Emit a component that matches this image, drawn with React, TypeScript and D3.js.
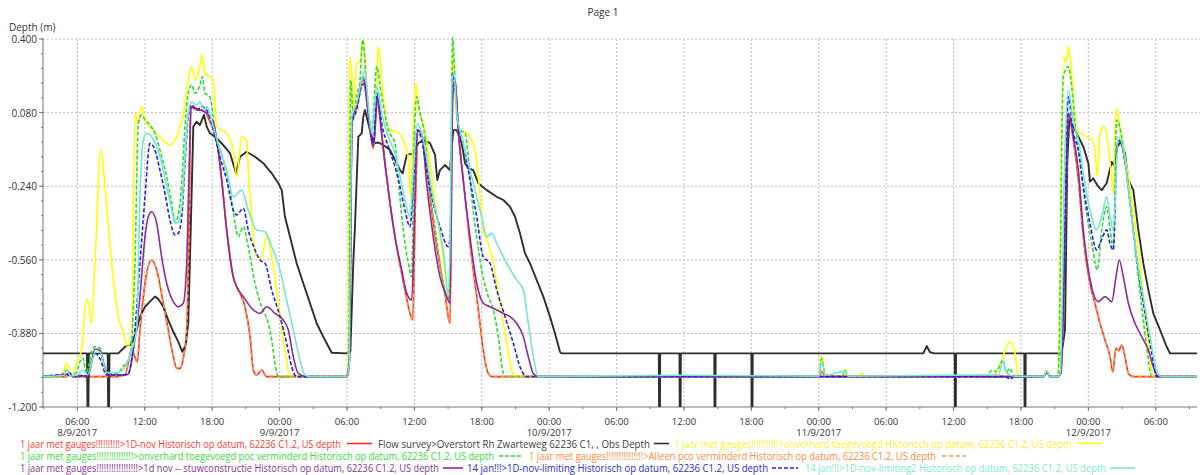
import React from "react";
import * as d3 from "d3";

// ---------- DATA (hours since 8/9/2017 00:00, depth in m) ----------
const redDepth: [number, number][] = [
  [2.94,-1.068],[5.05,-1.068],[5.3,-1.058],[5.6,-1.068],[9.5,-1.068],[10.24,-1.06],[10.83,-0.952],[11.33,-1.003],[11.57,-0.865],[12.02,-0.662],[12.61,-0.561],[13.06,-0.604],[13.65,-0.749],[14.09,-0.865],[14.54,-0.981],[14.84,-1.032],[15.13,-1.032],[15.43,-0.988],[15.73,-0.865],[15.94,-0.43],[16.11,0.106],[16.6,0.09],[17.21,0.091],[17.8,0.04],[18.4,-0.039],[18.85,-0.213],[19.29,-0.43],[19.88,-0.634],[20.18,-0.677],[20.48,-0.706],[20.92,-0.764],[21.37,-0.894],[21.66,-1.039],[21.96,-1.061],[22.41,-1.039],[22.85,-1.068],
  [29.9,-1.068],[30.2,-1.01],[30.45,0.033],[30.9,0.11],[31.45,0.222],[31.9,0.07],[32.34,-0.075],[32.75,0.14],[33.0,0.03],[33.38,-0.14],[33.83,-0.314],[34.43,-0.503],[35.16,-0.691],[35.61,-0.793],[35.85,-0.822],[36.1,-0.3],[36.35,0.004],[36.8,-0.04],[37.39,-0.286],[37.99,-0.503],[38.72,-0.706],[39.17,-0.836],[39.41,0.149],[39.62,0.222],[39.91,0.004],[40.35,-0.213],[40.95,-0.488],[41.55,-0.72],[41.84,-0.836],[42.13,-0.952],[42.58,-1.054],[42.9,-1.068],
  [72.0,-1.068],[72.26,-1.045],[72.6,-1.068],[92.0,-1.068],[92.29,-1.05],[92.6,-1.068],[93.3,-1.068],[93.55,-1.054],[94.0,-0.3],[94.21,0.077],[94.66,-0.039],[95.11,-0.213],[95.55,-0.46],[96.14,-0.662],[96.59,-0.749],[97.03,-0.836],[97.48,-0.909],[97.93,-0.981],[98.17,-1.047],[98.46,-0.945],[98.7,-0.955],[98.96,-0.931],[99.26,-0.981],[99.56,-1.054],[100.0,-1.068],[105.7,-1.068]
];

const blackDepth: [number, number][] = [
  [2.94,-0.967],[6.86,-0.967],[6.9,-1.2],[6.98,-1.2],[7.02,-0.967],[8.7,-0.967],[8.74,-1.2],[8.82,-1.2],[8.86,-0.967],[9.64,-0.967],[10.24,-0.938],[10.68,-0.931],[10.98,-0.909],[11.28,-0.865],[11.57,-0.807],[12.02,-0.764],[12.46,-0.742],[12.91,-0.72],[13.2,-0.73],[13.65,-0.764],[14.09,-0.822],[14.54,-0.873],[14.98,-0.916],[15.34,-0.96],[15.64,-0.931],[15.87,-0.836],[16.09,-0.43],[16.32,0.019],[16.62,0.04],[16.91,0.026],[17.27,0.07],[17.51,0.019],[17.8,-0.01],[18.25,-0.025],[18.99,-0.061],[19.59,-0.097],[20.12,-0.184],[20.48,-0.112],[21.07,-0.09],[21.81,-0.112],[22.55,-0.14],[23.3,-0.184],[23.89,-0.227],[24.19,-0.257],[24.48,-0.373],[24.93,-0.46],[25.52,-0.575],[26.11,-0.662],[26.71,-0.749],[27.3,-0.836],[28.04,-0.909],[28.64,-0.964],[29.97,-0.967],
  [30.3,-0.96],[30.56,-0.575],[30.71,-0.416],[31.01,-0.025],[31.31,-0.01],[31.45,0.062],[31.6,0.091],[31.9,0.033],[32.2,-0.025],[32.49,-0.053],[32.8,-0.05],[33.23,-0.061],[33.83,-0.083],[34.43,-0.14],[34.72,-0.17],[34.96,-0.184],[35.32,-0.104],[35.91,-0.097],[36.35,-0.053],[36.79,-0.039],[37.39,-0.053],[37.84,-0.104],[38.04,-0.213],[38.28,-0.17],[38.72,-0.148],[39.17,-0.17],[39.46,0.004],[39.77,0.004],[40.21,-0.053],[40.51,-0.14],[40.8,-0.162],[41.24,-0.17],[41.69,-0.227],[42.44,-0.257],[43.33,-0.286],[43.92,-0.3],[44.51,-0.329],[44.96,-0.373],[45.4,-0.445],[45.85,-0.532],[46.29,-0.575],[46.89,-0.648],[47.48,-0.72],[48.07,-0.807],[48.52,-0.88],[48.96,-0.96],[49.1,-0.967],
  [57.76,-0.967],[57.78,-1.2],[57.86,-1.2],[57.88,-0.967],[59.6,-0.967],[59.62,-1.2],[59.7,-1.2],[59.72,-0.967],[62.7,-0.967],[62.72,-1.2],[62.8,-1.2],[62.82,-0.967],[66.0,-0.967],[66.02,-1.2],[66.1,-1.2],[66.12,-0.967],[81.3,-0.967],[81.61,-0.935],[81.9,-0.962],[82.3,-0.967],[84.1,-0.967],[84.12,-1.2],[84.2,-1.2],[84.22,-0.967],[90.3,-0.967],[90.32,-1.2],[90.4,-1.2],[90.42,-0.967],
  [93.62,-0.967],[93.92,-0.865],[94.12,-0.14],[94.3,0.048],[94.66,0.019],[95.11,-0.025],[95.55,-0.068],[96.0,-0.14],[96.14,-0.22],[96.44,-0.206],[96.89,-0.242],[97.19,-0.257],[97.63,-0.227],[98.08,-0.134],[98.3,-0.15],[98.57,-0.068],[98.87,-0.047],[99.26,-0.097],[99.56,-0.213],[100.0,-0.257],[100.45,-0.43],[100.89,-0.575],[101.34,-0.691],[101.78,-0.793],[102.38,-0.865],[102.97,-0.938],[103.27,-0.967],[105.7,-0.967]
];

const yellowDepth: [number, number][] = [
  [2.94,-1.068],[4.45,-1.068],[4.75,-1.05],[5.05,-1.01],[5.34,-1.05],[5.6,-1.06],[6.0,-1.0],[6.38,-0.952],[6.77,-0.732],[7.0,-0.745],[7.27,-0.836],[7.57,-0.575],[8.07,-0.083],[8.61,-0.329],[9.05,-0.575],[9.64,-0.807],[10.03,-0.865],[10.44,-0.938],[10.83,-0.894],[11.13,0.077],[11.42,0.033],[11.72,0.106],[12.02,0.048],[12.46,0.019],[13.35,-0.025],[14.24,-0.061],[14.84,-0.025],[15.43,0.077],[15.87,0.222],[16.18,0.28],[16.47,0.222],[16.85,0.265],[17.12,0.331],[17.36,0.251],[18.1,0.222],[18.4,0.019],[19.29,-0.01],[19.88,-0.083],[20.18,-0.199],[20.63,-0.025],[21.07,-0.04],[21.21,-0.17],[21.52,-0.373],[21.96,-0.547],[22.41,-0.547],[22.85,-0.46],[23.3,-0.547],[23.89,-0.749],[24.48,-0.952],[24.93,-1.068],
  [29.95,-1.068],[30.1,-1.01],[30.21,0.323],[30.42,0.251],[30.56,0.077],[30.86,0.294],[31.16,0.3],[31.45,0.396],[31.75,0.178],[32.2,0.004],[32.49,0.062],[32.79,0.367],[33.09,0.222],[33.54,0.033],[33.83,0.004],[34.43,-0.003],[34.87,-0.025],[35.16,-0.061],[35.46,-0.112],[35.67,-0.286],[35.91,0.004],[36.12,0.207],[36.35,0.106],[36.79,0.033],[37.39,-0.14],[37.99,-0.358],[38.57,-0.547],[39.02,-0.72],[39.2,-0.6],[39.41,0.367],[39.62,0.149],[40.06,0.004],[40.66,-0.01],[41.1,-0.039],[41.4,-0.083],[41.69,-0.199],[42.13,-0.43],[42.58,-0.488],[43.03,-0.575],[43.62,-0.749],[44.22,-0.923],[44.66,-1.039],[44.96,-1.068],
  [72.0,-1.068],[72.26,-0.974],[72.55,-1.058],[74.1,-1.065],[74.33,-1.036],[74.6,-1.065],[75.6,-1.066],[75.82,-1.052],[76.1,-1.068],[87.2,-1.068],[87.8,-1.045],[88.28,-1.0],[88.6,-0.95],[89.02,-0.916],[89.4,-0.95],[89.76,-1.06],[90.1,-1.068],
  [92.0,-1.068],[92.29,-1.039],[92.6,-1.068],[93.18,-1.068],[93.32,-1.054],[93.77,0.323],[94.0,0.3],[94.21,0.367],[94.43,0.294],[94.66,0.149],[94.96,0.004],[95.55,-0.017],[96.3,-0.039],[96.59,-0.083],[96.8,-0.199],[97.03,-0.01],[97.39,0.019],[97.78,-0.068],[98.08,-0.213],[98.22,-0.271],[98.46,0.099],[98.81,0.019],[99.26,-0.112],[99.71,-0.242],[100.15,-0.401],[100.6,-0.575],[101.04,-0.793],[101.49,-0.981],[101.78,-1.068],[105.7,-1.068]
];

const greenDepth: [number, number][] = [
  [2.94,-1.068],[4.45,-1.068],[4.75,-1.055],[5.05,-1.04],[5.4,-1.06],[5.9,-1.05],[6.23,-1.003],[6.5,-0.988],[6.77,-1.054],[7.1,-1.0],[7.27,-0.96],[7.57,-0.938],[8.01,-0.945],[8.3,-1.0],[8.61,-1.054],[9.64,-1.054],[9.94,-1.032],[10.68,-0.981],[11.13,-0.575],[11.42,0.033],[11.72,0.07],[12.02,0.048],[12.46,0.026],[12.91,-0.01],[13.35,-0.083],[13.95,-0.199],[14.4,-0.314],[14.69,-0.394],[14.98,-0.365],[15.29,-0.227],[15.58,0.019],[15.87,0.164],[16.18,0.2],[16.47,0.164],[16.91,0.2],[17.12,0.236],[17.36,0.164],[17.8,0.149],[18.25,0.004],[18.99,-0.126],[19.59,-0.257],[20.03,-0.401],[20.32,-0.46],[20.77,-0.416],[21.21,-0.503],[21.81,-0.662],[22.41,-0.764],[22.99,-0.836],[23.3,-0.909],[23.59,-1.01],[23.89,-1.068],
  [30.0,-1.068],[30.15,-1.01],[30.33,0.222],[30.56,0.062],[30.86,0.15],[31.16,0.222],[31.4,0.396],[31.75,0.193],[32.2,-0.01],[32.65,0.28],[33.09,0.149],[33.68,0.004],[34.27,-0.053],[34.57,-0.213],[35.01,-0.43],[35.46,-0.575],[35.76,-0.634],[35.97,-0.068],[36.21,0.149],[36.5,0.077],[36.94,-0.025],[37.39,-0.257],[37.99,-0.474],[38.57,-0.662],[39.02,-0.735],[39.2,-0.5],[39.41,0.405],[39.62,0.222],[40.06,0.004],[40.51,-0.01],[40.8,-0.112],[41.1,-0.286],[41.55,-0.46],[41.99,-0.604],[42.58,-0.72],[43.03,-0.778],[43.47,-0.894],[43.92,-1.054],[44.22,-1.068],
  [72.0,-1.068],[72.26,-0.99],[72.55,-1.06],[74.1,-1.066],[74.33,-1.042],[74.6,-1.066],[87.0,-1.066],[87.4,-1.04],[87.8,-1.046],[88.4,-0.996],[88.7,-1.05],[89.0,-1.032],[89.4,-1.066],
  [92.0,-1.068],[92.29,-1.045],[92.6,-1.068],[93.18,-1.068],[93.32,-1.054],[93.77,0.236],[94.21,0.28],[94.5,0.2],[94.81,0.033],[95.26,-0.14],[95.7,-0.314],[96.3,-0.488],[96.8,-0.604],[97.19,-0.43],[97.63,-0.329],[97.93,-0.43],[98.22,-0.503],[98.52,0.048],[98.96,-0.025],[99.41,-0.184],[99.86,-0.373],[100.3,-0.575],[100.75,-0.764],[101.19,-0.938],[101.64,-1.068],[105.7,-1.068]
];

// Hidden underneath the red series in the picture: it follows the same path.
const orangeDepth: [number, number][] = redDepth;

const purpleDepth: [number, number][] = [
  [2.94,-1.068],[5.05,-1.058],[5.3,-1.05],[5.6,-1.068],[6.5,-1.065],[7.0,-1.058],[7.57,-0.948],[8.01,-0.955],[8.4,-1.02],[8.75,-1.061],[9.64,-1.061],[10.5,-1.058],[10.98,-0.952],[11.57,-0.72],[12.02,-0.46],[12.31,-0.373],[12.61,-0.351],[13.06,-0.401],[13.5,-0.547],[13.95,-0.662],[14.54,-0.742],[14.98,-0.764],[15.43,-0.749],[15.73,-0.575],[15.96,-0.14],[16.11,0.106],[16.91,0.091],[17.51,0.077],[18.1,0.04],[18.4,-0.039],[18.85,-0.213],[19.29,-0.43],[19.88,-0.634],[20.18,-0.677],[20.77,-0.72],[21.66,-0.778],[22.26,-0.793],[22.85,-0.764],[23.59,-0.793],[24.33,-0.822],[24.78,-0.865],[25.22,-0.981],[25.67,-1.054],[26.41,-1.068],
  [30.0,-1.068],[30.2,-1.01],[30.45,0.05],[30.9,0.12],[31.45,0.236],[31.9,0.077],[32.34,-0.068],[32.7,0.149],[32.95,0.05],[33.38,-0.14],[33.83,-0.314],[34.27,-0.46],[34.87,-0.604],[35.32,-0.706],[35.76,-0.735],[36.05,-0.286],[36.26,0.004],[36.65,-0.01],[37.09,-0.227],[37.68,-0.46],[38.28,-0.634],[38.88,-0.72],[39.17,-0.749],[39.41,0.149],[39.62,0.222],[39.91,0.004],[40.35,-0.213],[40.95,-0.46],[41.55,-0.662],[42.13,-0.749],[42.73,-0.764],[43.33,-0.778],[43.92,-0.793],[44.51,-0.807],[45.11,-0.836],[45.7,-0.894],[46.14,-0.981],[46.59,-1.054],[47.03,-1.068],
  [92.0,-1.068],[92.29,-1.05],[92.6,-1.068],[93.3,-1.068],[93.55,-1.054],[94.0,-0.3],[94.21,0.077],[94.66,-0.025],[95.11,-0.17],[95.55,-0.43],[96.0,-0.604],[96.44,-0.706],[96.89,-0.742],[97.48,-0.72],[98.08,-0.742],[98.46,-0.634],[98.75,-0.561],[99.11,-0.634],[99.56,-0.749],[100.15,-0.836],[100.75,-0.894],[101.34,-0.952],[101.78,-1.025],[102.23,-1.068],[105.7,-1.068]
];

const blueDepth: [number, number][] = [
  [2.94,-1.068],[5.05,-1.058],[5.6,-1.068],[6.5,-1.062],[6.92,-1.072],[7.27,-1.0],[7.57,-0.965],[8.01,-0.99],[8.61,-1.061],[9.64,-1.061],[10.5,-1.058],[10.98,-0.938],[11.57,-0.575],[12.02,-0.286],[12.46,-0.054],[12.91,-0.083],[13.35,-0.17],[13.8,-0.271],[14.24,-0.387],[14.69,-0.452],[14.98,-0.445],[15.29,-0.373],[15.58,-0.14],[15.87,0.062],[16.18,0.113],[16.62,0.091],[17.07,0.106],[17.51,0.091],[18.1,0.004],[18.69,-0.112],[19.29,-0.213],[19.88,-0.344],[20.18,-0.365],[20.77,-0.336],[21.21,-0.43],[21.81,-0.517],[22.26,-0.561],[22.7,-0.575],[23.3,-0.691],[24.04,-0.807],[24.63,-0.923],[25.08,-1.025],[25.52,-1.068],
  [30.0,-1.068],[30.2,-1.01],[30.45,0.033],[30.86,0.09],[31.31,0.193],[31.6,0.207],[31.9,0.077],[32.34,-0.053],[32.7,0.164],[33.09,0.033],[33.68,-0.068],[34.27,-0.155],[34.72,-0.242],[35.16,-0.344],[35.61,-0.416],[35.91,-0.23],[36.26,0.004],[36.65,-0.039],[37.09,-0.17],[37.68,-0.314],[38.28,-0.416],[39.02,-0.503],[39.2,-0.45],[39.41,0.251],[39.62,0.19],[39.91,0.019],[40.35,-0.053],[40.95,-0.213],[41.55,-0.373],[42.13,-0.547],[42.73,-0.575],[43.33,-0.691],[44.07,-0.807],[44.81,-0.923],[45.4,-1.025],[46.0,-1.068],
  [88.6,-1.068],[89.02,-1.078],[89.4,-1.068],
  [92.0,-1.068],[92.29,-1.05],[92.6,-1.068],[93.3,-1.068],[93.5,-1.054],[93.95,-0.3],[94.21,0.149],[94.66,-0.01],[95.11,-0.083],[95.55,-0.242],[96.14,-0.401],[96.74,-0.517],[97.19,-0.47],[97.63,-0.43],[97.93,-0.49],[98.22,-0.517],[98.57,-0.068],[98.81,-0.039],[99.26,-0.14],[99.86,-0.373],[100.45,-0.604],[101.04,-0.793],[101.64,-0.967],[102.08,-1.068],[105.7,-1.068]
];

const aquaDepth: [number, number][] = [
  [2.94,-1.068],[4.8,-1.062],[5.05,-1.04],[5.4,-1.065],[6.0,-1.06],[6.5,-1.04],[6.92,-1.06],[7.57,-0.962],[8.01,-0.962],[8.61,-1.05],[9.64,-1.05],[10.5,-1.0],[10.83,-0.952],[11.28,-0.865],[11.57,-0.286],[11.87,-0.039],[12.17,-0.01],[12.61,-0.025],[13.06,-0.068],[13.5,-0.14],[13.95,-0.242],[14.4,-0.344],[14.69,-0.401],[14.98,-0.394],[15.29,-0.329],[15.58,-0.112],[15.87,0.077],[16.18,0.127],[16.62,0.113],[16.91,0.127],[17.36,0.091],[17.51,0.106],[18.1,0.019],[18.69,-0.083],[19.29,-0.17],[19.88,-0.286],[20.63,-0.257],[21.21,-0.344],[21.96,-0.43],[22.7,-0.438],[23.3,-0.503],[24.04,-0.604],[24.63,-0.735],[25.22,-0.865],[25.82,-0.996],[26.26,-1.061],[26.71,-1.068],
  [30.0,-1.068],[30.2,-1.01],[30.42,0.062],[30.86,0.12],[31.31,0.222],[31.6,0.265],[31.9,0.106],[32.2,-0.01],[32.65,0.193],[33.09,0.077],[33.68,-0.025],[34.27,-0.097],[34.72,-0.199],[35.16,-0.3],[35.61,-0.373],[35.91,-0.17],[36.26,0.033],[36.65,-0.01],[37.09,-0.112],[37.54,-0.257],[38.13,-0.401],[38.72,-0.575],[39.0,-0.72],[39.2,-0.4],[39.35,0.222],[39.53,0.251],[39.77,0.077],[40.21,-0.025],[40.8,-0.14],[41.4,-0.257],[41.99,-0.373],[42.44,-0.46],[42.88,-0.445],[43.33,-0.488],[44.22,-0.575],[45.11,-0.648],[45.7,-0.691],[46.14,-0.836],[46.59,-0.981],[47.03,-1.068],
  [60.0,-1.062],[72.0,-1.066],[72.26,-1.0],[72.55,-1.062],[74.33,-1.045],[74.6,-1.066],[88.0,-1.06],[88.4,-1.0],[88.7,-1.05],[89.4,-1.066],
  [92.0,-1.068],[92.29,-1.045],[92.6,-1.068],[93.3,-1.068],[93.5,-1.054],[93.9,-0.1],[94.21,0.178],[94.66,0.04],[95.11,-0.039],[95.55,-0.184],[96.14,-0.344],[96.74,-0.43],[97.19,-0.373],[97.63,-0.286],[97.93,-0.373],[98.22,-0.43],[98.66,-0.025],[99.11,-0.08],[99.71,-0.314],[100.3,-0.547],[100.89,-0.72],[101.49,-0.894],[102.08,-1.039],[102.53,-1.068],[105.7,-1.068]
];

const seriesLabels = [
  "1 jaar met gauges!!!!!!!!!!>1D-nov Historisch op datum, 62236 C1.2, US depth",
  "Flow survey>Overstort Rh Zwarteweg 62236 C1, , Obs Depth",
  "1 jaar met gauges!!!!!!!!!!!>onverhard toegevoegd Historisch op datum, 62236 C1.2, US depth",
  "1 jaar met gauges!!!!!!!!!!!!!!!>onverhard toegevoegd poc verminderd Historisch op datum, 62236 C1.2, US depth",
  "1 jaar met gauges!!!!!!!!!!!!!!!>Alleen pco verminderd Historisch op datum, 62236 C1.2, US depth",
  "1 jaar met gauges!!!!!!!!!!!!!!!!!>1d nov -- stuwconstructie Historisch op datum, 62236 C1.2, US depth",
  "14 jan!!!>1D-nov-limiting Historisch op datum, 62236 C1.2, US depth",
  "14 jan!!!>1D-nov-limiting2 Historisch op datum, 62236 C1.2, US depth",
];
const seriesData = [redDepth, blackDepth, yellowDepth, greenDepth, orangeDepth, purpleDepth, blueDepth, aquaDepth];

const yTickValues = [0.4, 0.08, -0.24, -0.56, -0.88, -1.2];
const yDomain: [number, number] = [-1.2, 0.4];
const xStartHour = 2.94;
const xEndHour = 105.67;

// ---------- STYLE ----------
const W = 1203, H = 475;
const M = { left: 43, right: 1197, top: 39, bottom: 407 };
const styles = [
  { color: "#ff2a20", text: "#ff3a30", width: 1.6, dash: null, curve: "smooth" },
  { color: "#2e2e2e", text: "#404040", width: 1.9, dash: null, curve: "linear" },
  { color: "#ffff00", text: "#f2f23a", width: 1.6, dash: null, curve: "smooth" },
  { color: "#2fdc2f", text: "#3ad83a", width: 1.6, dash: "4,2", curve: "smooth" },
  { color: "#ff9048", text: "#ff8a40", width: 1.6, dash: "4,3", curve: "smooth" },
  { color: "#8e2a9e", text: "#8a3098", width: 1.6, dash: null, curve: "smooth" },
  { color: "#2424e0", text: "#2a2ad8", width: 1.6, dash: "4,2", curve: "smooth" },
  { color: "#74e6d2", text: "#7fe9d6", width: 1.6, dash: null, curve: "smooth" },
];
// legend layout: [row, textX, textWidth, sampleX1, sampleX2]
const legendLayout: [number, number, number, number, number][] = [
  [0, 20, 321, 347, 372],
  [0, 378, 272, 654, 669],
  [0, 674, 398, 1077, 1102],
  [1, 20, 474, 499, 523],
  [1, 529, 407, 942, 966],
  [2, 20, 419, 443, 463],
  [2, 467, 301, 772, 798],
  [2, 805, 301, 1110, 1135],
];
const legendRowY = [443.5, 456, 468];
const FONT = "'Open Sans', 'Noto Sans', sans-serif";

const base = new Date(2017, 8, 8, 0, 0, 0).getTime();
const hourToDate = (h: number) => new Date(base + h * 3600 * 1000);

export default function App() {
  const x = d3.scaleTime().domain([hourToDate(xStartHour), hourToDate(xEndHour)]).range([M.left, M.right]);
  const y = d3.scaleLinear().domain(yDomain).range([M.bottom, M.top]);

  const majorX = x.ticks(d3.timeHour.every(6)!);
  const minorX = x.ticks(d3.timeHour.every(3)!);
  const minorY = d3.range(0, 26).map((i) => yDomain[0] + i * 0.064);
  const fmtTime = d3.timeFormat("%H:%M");
  const fmtDate = d3.timeFormat("%-d/%-m/%Y");

  const lineSmooth = d3.line<[number, number]>().x((d) => x(hourToDate(d[0]))).y((d) => y(d[1])).curve(d3.curveMonotoneX);
  const lineLinear = d3.line<[number, number]>().x((d) => x(hourToDate(d[0]))).y((d) => y(d[1])).curve(d3.curveLinear);

  return (
    <svg width={W} height={H} style={{ position: "absolute", left: 0, top: 0, background: "#fff" }} fontFamily={FONT}>
      <defs>
        <clipPath id="plotClip">
          <rect x={M.left} y={M.top - 2} width={M.right - M.left} height={M.bottom - M.top + 2} />
        </clipPath>
      </defs>
      <rect x={0} y={0} width={W} height={H} fill="#fff" />
      <text x={603} y={12} textAnchor="middle" dominantBaseline="central" fontSize={10} fill="#333">Page 1</text>
      <text x={9} y={27} dominantBaseline="central" fontSize={10} fill="#333">Depth (m)</text>

      {/* grid */}
      {yTickValues.filter((v) => v !== -1.2).map((v) => (
        <line key={"gy" + v} x1={M.left} x2={1200} y1={y(v)} y2={y(v)} stroke="#bdbdbd" strokeWidth={1} strokeDasharray="2,2" />
      ))}
      {majorX.map((t) => (
        <line key={"gx" + t.getTime()} x1={x(t)} x2={x(t)} y1={M.top} y2={M.bottom} stroke="#bdbdbd" strokeWidth={1} strokeDasharray="2,2" />
      ))}

      {/* axes */}
      <line x1={M.left} x2={M.left} y1={M.top} y2={M.bottom} stroke="#777" strokeWidth={1} />
      <line x1={M.left} x2={M.right} y1={M.bottom} y2={M.bottom} stroke="#777" strokeWidth={1} />
      {minorY.map((v, i) => (
        <line key={"my" + i} x1={M.left - 2} x2={M.left} y1={y(v)} y2={y(v)} stroke="#777" />
      ))}
      {yTickValues.map((v) => (
        <g key={"ty" + v}>
          <line x1={M.left - 4} x2={M.left} y1={y(v)} y2={y(v)} stroke="#777" />
          <text x={37} y={y(v)} textAnchor="end" dominantBaseline="central" fontSize={10} fill="#333">{v.toFixed(3)}</text>
        </g>
      ))}
      {minorX.map((t) => (
        <line key={"mx" + t.getTime()} x1={x(t)} x2={x(t)} y1={M.bottom} y2={M.bottom + 2} stroke="#777" />
      ))}
      {majorX.map((t, i) => (
        <g key={"tx" + t.getTime()}>
          <line x1={x(t)} x2={x(t)} y1={M.bottom} y2={M.bottom + 4} stroke="#777" />
          <text x={x(t)} y={421} textAnchor="middle" dominantBaseline="central" fontSize={9.5} fill="#333">{fmtTime(t)}</text>
          {(t.getHours() === 0 || i === 0) && (
            <text x={x(t)} y={432} textAnchor="middle" dominantBaseline="central" fontSize={9.5} fill="#333">{fmtDate(t)}</text>
          )}
        </g>
      ))}

      {/* series */}
      <g clipPath="url(#plotClip)">
        {seriesData.map((data, i) => {
          const s = styles[i];
          const gen = s.curve === "linear" ? lineLinear : lineSmooth;
          return (
            <path key={"s" + i} d={gen(data) || ""} fill="none" stroke={s.color} strokeWidth={s.width}
              strokeDasharray={s.dash || undefined} strokeLinejoin="round" />
          );
        })}
      </g>

      {/* legend */}
      {legendLayout.map(([row, tx, tw, sx1, sx2], i) => {
        const s = styles[i];
        const yy = legendRowY[row];
        return (
          <g key={"lg" + i}>
            <text x={tx} y={yy} dominantBaseline="central" fontSize={10} fill={s.text}
              textLength={tw} lengthAdjust="spacingAndGlyphs">{seriesLabels[i]}</text>
            <line x1={sx1} x2={sx2} y1={yy} y2={yy} stroke={s.color} strokeWidth={1.6} strokeDasharray={s.dash || undefined} />
          </g>
        );
      })}
    </svg>
  );
}
